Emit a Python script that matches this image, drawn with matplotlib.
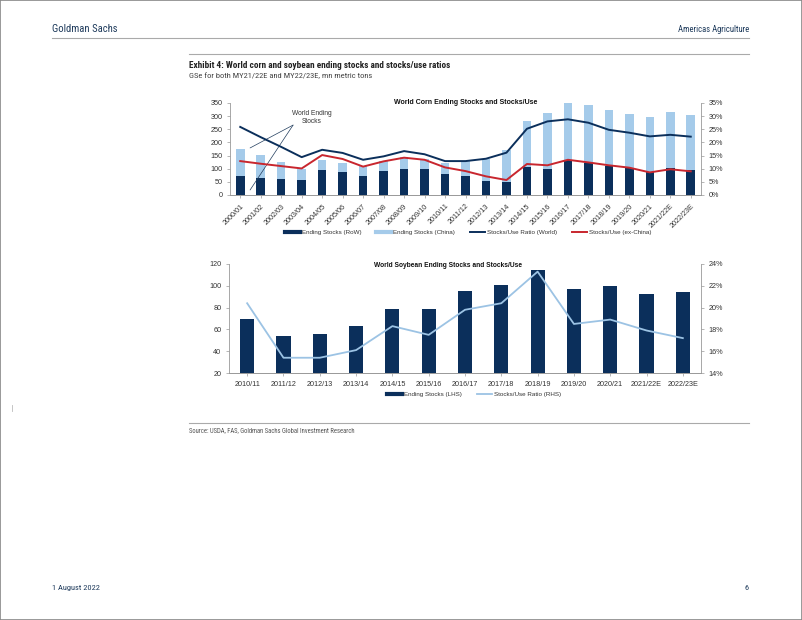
import numpy as np
import matplotlib.pyplot as plt
from matplotlib import font_manager
from matplotlib.lines import Line2D
from matplotlib.ticker import FuncFormatter

plt.rcParams['font.family'] = ['Liberation Sans', 'DejaVu Sans']

# condensed font for page texts, if one is installed
names = {f.name for f in font_manager.fontManager.ttflist}
cands = [n for n in ['Roboto Condensed', 'Liberation Sans Narrow', 'Open Sans Condensed',
                     'DejaVu Sans Condensed'] if n in names]
if cands:
    narrow = [cands[0], 'Liberation Sans']
    k = 1.0
else:
    narrow = ['Liberation Sans']
    k = 0.84

# Corn data (mn metric tons, ratios in %)
corn_years = ['2000/01', '2001/02', '2002/03', '2003/04', '2004/05', '2005/06', '2006/07',
              '2007/08', '2008/09', '2009/10', '2010/11', '2011/12', '2012/13', '2013/14',
              '2014/15', '2015/16', '2016/17', '2017/18', '2018/19', '2019/20', '2020/21',
              '2021/22E', '2022/23E']
corn_row = [72, 66, 62, 58, 94, 87, 71, 90, 99, 98, 79, 72, 53, 48, 106, 100, 132, 122, 110, 103, 87, 104, 94]
corn_total = [175, 151, 127, 100, 132, 122, 109, 129, 144, 138, 122, 129, 138, 172, 280, 313, 351, 343, 324, 308, 295, 314, 304]
corn_china = [t - r for t, r in zip(corn_total, corn_row)]
corn_ratio_world = [25.9, 22.0, 18.3, 14.4, 17.2, 16.0, 13.4, 14.7, 16.7, 15.5, 12.9, 12.9, 13.8, 16.1,
                    25.2, 28.0, 28.8, 27.5, 24.8, 23.7, 22.3, 22.9, 22.2]
corn_ratio_exchina = [12.9, 11.9, 11.0, 10.1, 15.2, 13.7, 10.8, 12.8, 14.2, 13.4, 10.5, 9.1, 7.1, 5.7,
                      11.8, 11.3, 13.4, 12.4, 11.3, 10.4, 8.6, 9.8, 9.0]

# Soybean data
soy_years = ['2010/11', '2011/12', '2012/13', '2013/14', '2014/15', '2015/16', '2016/17',
             '2017/18', '2018/19', '2019/20', '2020/21', '2021/22E', '2022/23E']
soy_stocks = [69.8, 54.3, 56.1, 63.1, 78.7, 78.7, 95.2, 100.4, 114.8, 97.1, 99.5, 92.5, 94.6]
soy_ratio = [20.4, 15.4, 15.4, 16.1, 18.3, 17.5, 19.8, 20.4, 23.3, 18.5, 18.9, 17.9, 17.2]

navy = '#0b2f5b'
light = '#a5cbea'
red = '#c8262e'
soy_line = '#9cc3e4'
grey_txt = '#333333'
head_col = '#1f3b5c'
tick_fs = 5.2

fig = plt.figure(figsize=(8.02, 6.2), dpi=100)


def px(x, y):
    return x / 802, 1 - y / 620


# page frame and header
fig.patches.append(plt.Rectangle((0, 0), 1, 1, transform=fig.transFigure, fill=False,
                                 edgecolor='#888888', linewidth=1.2))
fig.text(*px(52, 29), 'Goldman Sachs', fontsize=7.7 * k, color=head_col, va='center',
         ha='left', family=narrow)
fig.text(*px(749, 29), 'Americas Agriculture', fontsize=6.2 * k, color=head_col, va='center',
         ha='right', family=narrow)
fig.add_artist(Line2D([52 / 802, 749 / 802], [1 - 38 / 620] * 2, color='#aaaaaa', lw=0.8))
fig.add_artist(Line2D([189 / 802, 749 / 802], [1 - 54 / 620] * 2, color='#aaaaaa', lw=0.8))
fig.text(*px(189, 65), 'Exhibit 4: World corn and soybean ending stocks and stocks/use ratios',
         fontsize=6.7 * k, fontweight='bold', color='#222222', va='center', family=narrow)
fig.text(*px(189, 76), 'GSe for both MY21/22E and MY22/23E, mn metric tons',
         fontsize=6.1 * k, color='#444444', va='center', family=narrow)
fig.add_artist(Line2D([189 / 802, 749 / 802], [1 - 423 / 620] * 2, color='#aaaaaa', lw=0.8))
fig.text(*px(189, 431), 'Source: USDA, FAS, Goldman Sachs Global Investment Research',
         fontsize=4.8 * k, color='#555555', va='center', family=narrow)
fig.text(*px(52, 588), '1 August 2022', fontsize=6 * k, color=head_col, va='center',
         family=narrow)
fig.text(*px(749, 588), '6', fontsize=6 * k, color=head_col, va='center', ha='right',
         family=narrow)
fig.add_artist(Line2D([12 / 802] * 2, [1 - 405 / 620, 1 - 411 / 620], color='#bbbbbb', lw=0.6))


def style_axes(ax, ax2):
    for a in (ax, ax2):
        a.spines['top'].set_visible(False)
        for s in a.spines.values():
            s.set_color('#999999')
            s.set_linewidth(0.6)
        a.tick_params(labelsize=tick_fs, colors='#999999', labelcolor=grey_txt,
                      length=2, width=0.5)
    ax.spines['right'].set_visible(False)
    ax2.spines['left'].set_visible(False)


# Corn chart
ax = fig.add_axes([230 / 802, 1 - 195 / 620, 471 / 802, 92 / 620])
ax2 = ax.twinx()
x = np.arange(len(corn_years))
ax.bar(x, corn_row, width=0.42, color=navy, zorder=2)
ax.bar(x, corn_china, bottom=corn_row, width=0.42, color=light, zorder=2)
ax2.plot(x, corn_ratio_world, color=navy, lw=1.4)
ax2.plot(x, corn_ratio_exchina, color=red, lw=1.4)
ax.set_xlim(-0.5, len(x) - 0.5)
ax.set_ylim(0, 350)
ax.set_yticks(range(0, 351, 50))
ax2.set_ylim(0, 35)
ax2.set_yticks(range(0, 36, 5))
ax2.yaxis.set_major_formatter(FuncFormatter(lambda v, p: f'{v:.0f}%'))
ax.set_xticks(x)
ax.set_xticklabels(corn_years, rotation=45, ha='right', rotation_mode='anchor')
style_axes(ax, ax2)
ax.set_title('World Corn Ending Stocks and Stocks/Use', fontsize=5, fontweight='bold',
             y=0.9, color='#111111')
ax.text(3.5, 293, 'World Ending\nStocks', fontsize=4.8, ha='center', va='center', color=grey_txt)
for tgt in [(0.48, 179), (0.48, 19)]:
    ax.annotate('', xy=tgt, xytext=(2.58, 266),
                arrowprops=dict(arrowstyle='-', color=head_col, lw=0.5, shrinkA=0, shrinkB=0))
handles = [Line2D([], [], color=navy, lw=3), Line2D([], [], color=light, lw=3),
           Line2D([], [], color=navy, lw=1.4), Line2D([], [], color=red, lw=1.4)]
labels = ['Ending Stocks (RoW)', 'Ending Stocks (China)', 'Stocks/Use Ratio (World)',
          'Stocks/Use (ex-China)']
fig.legend(handles, labels, loc='center', bbox_to_anchor=px(468, 232), ncol=4,
           frameon=False, fontsize=4.5, handlelength=2.4, columnspacing=2.4, handletextpad=0.3,
           labelcolor=grey_txt)

# Soybean chart
bx = fig.add_axes([229 / 802, 1 - 373 / 620, 472 / 802, 109 / 620])
bx2 = bx.twinx()
xs = np.arange(len(soy_years))
bx.bar(xs, soy_stocks, width=0.39, color=navy, zorder=2)
bx2.plot(xs, soy_ratio, color=soy_line, lw=1.3)
bx.set_xlim(-0.5, len(xs) - 0.5)
bx.set_ylim(20, 120)
bx.set_yticks(range(20, 121, 20))
bx2.set_ylim(14, 24)
bx2.set_yticks(range(14, 25, 2))
bx2.yaxis.set_major_formatter(FuncFormatter(lambda v, p: f'{v:.0f}%'))
bx.set_xticks(xs)
bx.set_xticklabels(soy_years)
style_axes(bx, bx2)
bx.set_title('World Soybean Ending Stocks and Stocks/Use', fontsize=4.8, fontweight='bold',
             x=0.464, y=0.9, color='#111111')
fig.legend([Line2D([], [], color=navy, lw=3), Line2D([], [], color=soy_line, lw=1.3)],
           ['Ending Stocks (LHS)', 'Stocks/Use Ratio (RHS)'], loc='center',
           bbox_to_anchor=px(474, 394), ncol=2, frameon=False, fontsize=4.5,
           handlelength=2.4, columnspacing=2.4, handletextpad=0.3, labelcolor=grey_txt)

fig.savefig('out.png', dpi=100)
